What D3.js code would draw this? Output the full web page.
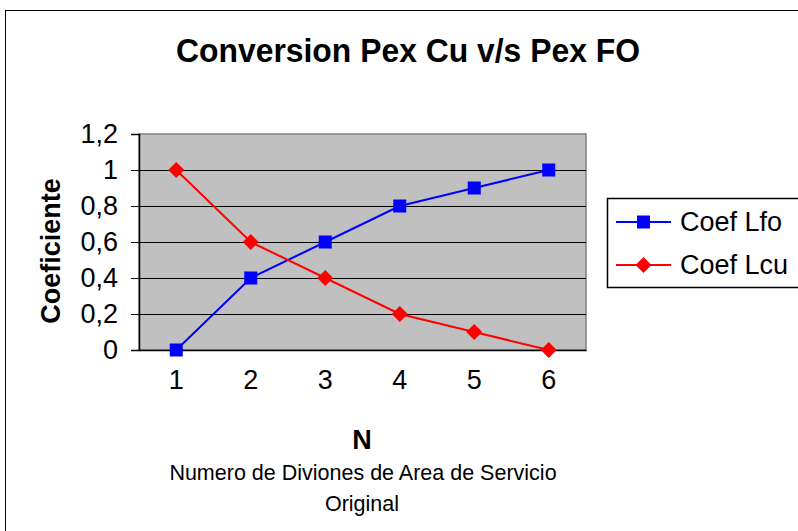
<!DOCTYPE html>
<html><head><meta charset="utf-8">
<script src="https://cdn.jsdelivr.net/npm/d3@7"></script>
<style>body{margin:0;background:#fff;}svg{display:block;font-family:"Liberation Sans",Arial,sans-serif;}</style>
</head><body>
<svg id="c" width="798" height="531"></svg>
<script>
const categories = [1, 2, 3, 4, 5, 6];
const coefLfo = [0, 0.4, 0.6, 0.8, 0.9, 1];
const coefLcu = [1, 0.6, 0.4, 0.2, 0.1, 0];
const yTicks = [0, 0.2, 0.4, 0.6, 0.8, 1, 1.2];
const seriesNames = ["Coef Lfo", "Coef Lcu"];
const seriesColors = ["#0000ff", "#ff0000"];

const svg = d3.select("#c");
svg.append("rect").attr("x", 5.5).attr("y", 10.5).attr("width", 800).attr("height", 530)
  .attr("fill", "#fff").attr("stroke", "#000").attr("stroke-width", 1);

const L = 139, R = 586, T = 134, B = 350;
const x = d3.scaleBand().domain(categories).range([L, R]);
const y = d3.scaleLinear().domain([0, 1.2]).range([B, T]);
const fmt = d => String(d).replace(".", ",");

svg.append("rect").attr("x", L).attr("y", T).attr("width", R - L).attr("height", B - T)
  .attr("fill", "#c0c0c0").attr("stroke", "#808080").attr("stroke-width", 1.5);

svg.append("g").attr("shape-rendering", "crispEdges")
  .selectAll("line").data(yTicks.filter(d => d > 0 && d < 1.2)).join("line")
  .attr("x1", L).attr("x2", R).attr("y1", d => y(d)).attr("y2", d => y(d))
  .attr("stroke", "#000").attr("stroke-width", 1);

const ya = svg.append("g").attr("transform", `translate(${L},0)`)
  .call(d3.axisLeft(y).tickValues(yTicks).tickFormat(fmt).tickSize(8).tickPadding(13));
ya.select(".domain").attr("stroke", "#000").attr("stroke-width", 1.5);
ya.selectAll(".tick line").attr("stroke", "#000").attr("shape-rendering", "crispEdges");
ya.selectAll("text").attr("font-size", 27).attr("fill", "#000").attr("font-family", "Liberation Sans, Arial");

const xa = svg.append("g").attr("transform", `translate(0,${B})`)
  .call(d3.axisBottom(x).tickSize(0).tickPadding(20));
xa.select(".domain").attr("stroke", "#000").attr("stroke-width", 1.5);
xa.selectAll("text").attr("font-size", 27).attr("fill", "#000").attr("font-family", "Liberation Sans, Arial");

const cx = d => x(d) + x.bandwidth() / 2;
const line = d3.line().x((d, i) => cx(categories[i])).y(d => y(d));

const sq = 13, dm = 8;
function marker(g, type, color, px, py) {
  if (type === 0) {
    g.append("rect").attr("x", px - sq / 2).attr("y", py - sq / 2).attr("width", sq).attr("height", sq).attr("fill", color);
  } else {
    g.append("path").attr("d", `M${px},${py - dm}L${px + dm},${py}L${px},${py + dm}L${px - dm},${py}Z`).attr("fill", color);
  }
}

[coefLfo, coefLcu].forEach((vals, s) => {
  svg.append("path").datum(vals).attr("d", line).attr("fill", "none")
    .attr("stroke", seriesColors[s]).attr("stroke-width", 2);
});
[coefLfo, coefLcu].forEach((vals, s) => {
  const g = svg.append("g");
  vals.forEach((v, i) => marker(g, s, seriesColors[s], cx(categories[i]), y(v)));
});

svg.append("text").attr("x", 408).attr("y", 62).attr("text-anchor", "middle")
  .attr("font-size", 34).attr("font-weight", "bold").attr("textLength", 464).attr("lengthAdjust", "spacingAndGlyphs")
  .text("Conversion Pex Cu v/s Pex FO");

svg.append("text").attr("transform", "translate(60,251) rotate(-90)").attr("text-anchor", "middle")
  .attr("font-size", 27).attr("font-weight", "bold").text("Coeficiente");

svg.append("text").attr("x", 362).attr("y", 449).attr("text-anchor", "middle")
  .attr("font-size", 27).attr("font-weight", "bold").text("N");
svg.append("text").attr("x", 363).attr("y", 480).attr("text-anchor", "middle")
  .attr("font-size", 21.5).text("Numero de Diviones de Area de Servicio");
svg.append("text").attr("x", 362).attr("y", 511).attr("text-anchor", "middle")
  .attr("font-size", 21.5).text("Original");

const lg = svg.append("g");
lg.append("rect").attr("x", 607.5).attr("y", 198.5).attr("width", 200).attr("height", 89)
  .attr("fill", "#fff").attr("stroke", "#000").attr("stroke-width", 1.5);
seriesNames.forEach((n, s) => {
  const ly = 222 + s * 43;
  lg.append("line").attr("x1", 616).attr("x2", 671).attr("y1", ly).attr("y2", ly)
    .attr("stroke", seriesColors[s]).attr("stroke-width", 2);
  marker(lg, s, seriesColors[s], 643.5, ly);
  lg.append("text").attr("x", 680).attr("y", ly + 9).attr("font-size", 27).text(n);
});
</script>
</body></html>
